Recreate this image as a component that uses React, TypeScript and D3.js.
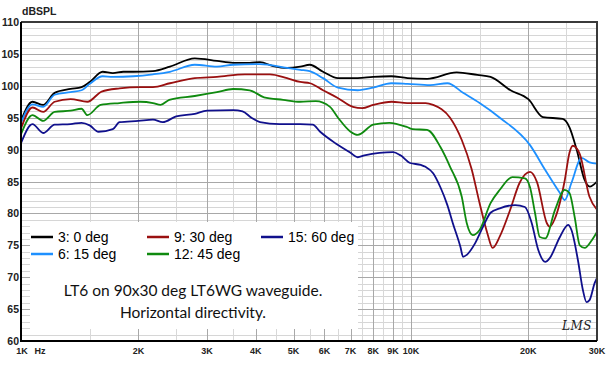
import React from 'react';
import * as d3 from 'd3';

// frequency (kHz), level (dB SPL)
const deg0: [number, number][] = [
  [1.0, 94.5], [1.07, 97.5], [1.14, 97.0], [1.22, 98.9], [1.34, 99.5], [1.43, 99.8], [1.5, 100.6],
  [1.62, 102.2], [1.72, 102.0], [1.83, 102.2], [1.94, 102.2], [2.18, 102.3], [2.41, 103.0], [2.79, 104.3],
  [3.18, 103.9], [3.5, 103.6], [3.86, 103.6], [4.1, 103.7], [4.43, 103.1], [4.81, 102.8], [5.2, 103.0],
  [5.5, 103.3], [5.95, 102.2], [6.5, 101.2], [7.3, 101.2], [8.0, 101.4], [8.9, 101.5], [9.8, 101.2],
  [11.0, 101.1], [13.1, 102.1], [14.8, 101.7], [16.0, 101.4], [18.0, 99.3], [20.0, 97.9], [21.8, 95.1],
  [24.5, 94.8], [25.5, 93.5], [26.6, 90.0], [27.9, 85.2], [28.75, 84.2], [30, 85.0],
];
const deg15: [number, number][] = [
  [1.0, 94.2], [1.07, 97.1], [1.14, 96.7], [1.22, 98.6], [1.34, 99.0], [1.43, 99.3], [1.5, 100.3],
  [1.62, 101.5], [1.72, 101.4], [1.94, 101.5], [2.18, 101.8], [2.41, 102.2], [2.79, 103.3], [3.18, 103.0],
  [3.5, 103.3], [4.1, 103.4], [4.81, 102.8], [5.2, 102.5], [5.5, 102.3], [5.95, 101.2], [6.5, 99.7],
  [7.3, 99.3], [8.0, 99.7], [8.9, 100.4], [9.8, 100.3], [11.2, 100.1], [12.4, 100.4], [13.6, 98.9],
  [15.0, 97.3], [16.9, 95.0], [20.2, 90.7], [22.1, 86.8], [24.1, 83.2], [24.8, 82.1], [25.8, 84.8],
  [27.4, 88.7], [28.7, 88.0], [30, 87.8],
];
const deg30: [number, number][] = [
  [1.0, 93.3], [1.07, 96.6], [1.14, 95.9], [1.22, 97.5], [1.34, 97.9], [1.48, 97.5], [1.61, 99.1],
  [1.79, 99.6], [2.02, 99.8], [2.18, 99.8], [2.41, 100.4], [2.79, 101.2], [3.18, 101.4], [3.75, 101.8],
  [4.35, 101.8], [4.81, 101.2], [5.2, 100.6], [5.51, 100.4], [5.95, 99.3], [6.49, 98.1], [7.1, 96.7],
  [7.5, 96.5], [8.0, 97.0], [8.93, 97.5], [9.78, 97.3], [10.9, 97.3], [11.4, 97.0], [12.6, 95.0],
  [13.5, 91.5], [14.3, 87.0], [15.0, 81.6], [15.7, 76.9], [16.2, 74.6], [16.9, 76.4], [17.95, 80.5],
  [19.0, 84.8], [20.2, 86.5], [21.05, 84.9], [22.3, 78.5], [22.7, 77.9], [23.4, 79.2], [24.8, 85.2],
  [25.5, 89.5], [26.0, 90.6], [27.1, 89.3], [28.7, 82.6], [30, 80.6],
];
const deg45: [number, number][] = [
  [1.0, 92.4], [1.07, 95.4], [1.14, 94.5], [1.22, 95.9], [1.34, 96.1], [1.43, 96.4], [1.48, 95.4],
  [1.6, 97.0], [1.79, 97.3], [2.02, 97.5], [2.18, 97.3], [2.28, 97.0], [2.4, 97.8], [2.79, 98.4],
  [3.18, 99.0], [3.5, 99.5], [3.86, 99.3], [4.2, 98.2], [4.7, 97.8], [5.2, 97.5], [5.7, 97.6],
  [6.2, 96.7], [6.5, 95.0], [7.0, 92.8], [7.3, 92.3], [8.0, 93.9], [8.8, 94.2], [9.8, 93.5],
  [10.1, 93.2], [11.0, 93.1], [11.9, 90.4], [12.6, 87.3], [13.5, 82.6], [13.9, 78.5], [14.4, 76.6],
  [15.0, 77.4], [16.0, 81.6], [16.9, 83.7], [18.2, 85.7], [19.6, 85.5], [20.2, 84.1], [20.8, 80.1],
  [21.4, 76.3], [22.1, 76.1], [23.4, 80.5], [24.8, 83.7], [25.5, 83.2], [26.3, 79.4], [27.1, 75.0],
  [27.9, 74.6], [29.1, 75.8], [30, 77.1],
];
const deg60: [number, number][] = [
  [1.0, 91.0], [1.07, 94.0], [1.14, 92.6], [1.22, 93.9], [1.34, 94.0], [1.43, 94.2], [1.5, 93.8],
  [1.58, 92.8], [1.72, 93.2], [1.79, 94.3], [2.0, 94.5], [2.18, 94.7], [2.31, 94.3], [2.5, 95.2],
  [2.79, 95.6], [3.0, 96.1], [3.5, 96.2], [3.7, 96.0], [3.9, 95.0], [4.1, 94.3], [4.6, 94.0],
  [5.2, 94.0], [5.6, 93.9], [5.85, 92.8], [6.4, 91.0], [7.0, 89.5], [7.3, 88.8], [7.6, 89.1],
  [8.3, 89.5], [9.0, 89.6], [9.4, 89.1], [9.95, 87.9], [10.6, 87.6], [10.9, 87.3], [11.4, 86.3],
  [11.9, 84.1], [12.4, 81.3], [12.8, 78.5], [13.4, 74.7], [13.6, 73.2], [13.9, 73.5], [14.6, 75.3],
  [15.3, 77.9], [16.0, 80.1], [16.9, 80.8], [18.5, 81.3], [19.6, 81.0], [20.4, 78.5], [21.2, 74.3],
  [22.1, 72.4], [22.7, 73.0], [24.1, 76.3], [25.3, 78.2], [25.8, 77.4], [26.8, 72.7], [27.6, 68.0],
  [28.2, 66.1], [28.7, 66.4], [29.6, 69.1], [30, 69.9],
];

const seriesNames = ['3: 0 deg', '6: 15 deg', '9: 30 deg', '12: 45 deg', '15: 60 deg'];
const seriesColors = ['#000000', '#1e90ff', '#9a1010', '#0f8a0f', '#10108c'];
const seriesData = [deg0, deg15, deg30, deg45, deg60];

const yTicks = [60, 65, 70, 75, 80, 85, 90, 95, 100, 105, 110];
const xTickValues = [1, 2, 3, 4, 5, 6, 7, 8, 9, 10, 20, 30];
const xTickLabels = ['1K', '2K', '3K', '4K', '5K', '6K', '7K', '8K', '9K', '10K', '20K', '30K'];
const xMinorGrid = [1.5, 2.5, 3.5, 4.5, 5.5, 6.5, 7.5, 8.5, 9.5, 15, 25];

const titleLines = ['LT6 on 90x30 deg LT6WG waveguide.', 'Horizontal directivity.'];

const L = 21, R = 597, T = 22, B = 341;

export default function App() {
  const x = d3.scaleLog().domain([1, 30]).range([L, R]);
  const y = d3.scaleLinear().domain([60, 110]).range([B, T]);
  const line = d3.line<[number, number]>()
    .x(d => x(d[0]))
    .y(d => y(d[1]))
    .curve(d3.curveMonotoneX);

  const minorY = d3.range(60, 111, 1).filter(v => v % 5 !== 0);
  const legendPos = [
    { col: 0, row: 0 }, { col: 0, row: 1 }, { col: 1, row: 0 }, { col: 1, row: 1 }, { col: 2, row: 0 },
  ];
  const colX = [31, 147, 261];
  const rowY = [237, 254];

  return (
    <svg width={610} height={365} style={{ position: 'absolute', left: 0, top: 0, background: '#fff' }}
      fontFamily="'Liberation Sans', Arial, sans-serif">
      <defs>
        <clipPath id="plot"><rect x={L} y={T} width={R - L} height={B - T} /></clipPath>
      </defs>
      <rect x={0} y={0} width={610} height={365} fill="#fff" />
      {/* grid */}
      <g shapeRendering="crispEdges">
        {minorY.map(v => (
          <line key={'my' + v} x1={L} x2={R} y1={Math.round(y(v)) + 0.5} y2={Math.round(y(v)) + 0.5} stroke="#d6d6d6" />
        ))}
        {xMinorGrid.map(v => (
          <line key={'mx' + v} x1={Math.round(x(v)) + 0.5} x2={Math.round(x(v)) + 0.5} y1={T} y2={B} stroke="#d8d8d8" />
        ))}
        {yTicks.map(v => (
          <line key={'gy' + v} x1={L} x2={R} y1={Math.round(y(v)) + 0.5} y2={Math.round(y(v)) + 0.5} stroke="#a8a8a8" />
        ))}
        {xTickValues.map(v => (
          <line key={'gx' + v} x1={Math.round(x(v)) + 0.5} x2={Math.round(x(v)) + 0.5} y1={T} y2={B} stroke="#a8a8a8" />
        ))}
      </g>
      {/* curves */}
      <g clipPath="url(#plot)" fill="none" strokeWidth={1.8} strokeLinejoin="round">
        {seriesData.map((d, i) => (
          <path key={i} d={line(d) || ''} stroke={seriesColors[i]} />
        ))}
      </g>
      {/* legend box */}
      <rect x={30} y={222} width={328} height={107} fill="#fff" />
      {seriesNames.map((n, i) => {
        const p = legendPos[i];
        return (
          <g key={n}>
            <line x1={colX[p.col]} x2={colX[p.col] + 22} y1={rowY[p.row]} y2={rowY[p.row]} stroke={seriesColors[i]} strokeWidth={2.5} />
            <text x={colX[p.col] + 27} y={rowY[p.row] + 5} fontSize={14} fill="#000">{n}</text>
          </g>
        );
      })}
      {titleLines.map((t, i) => (
        <text key={t} x={193} y={296 + i * 22} textAnchor="middle" fontSize={15.5}
          fontFamily="Lato, 'Open Sans', sans-serif" fill="#111">{t}</text>
      ))}
      <text x={577} y={330} textAnchor="middle" fontSize={12} fontStyle="italic"
        fontFamily="'DejaVu Serif', serif" fill="#222" letterSpacing={0.5}>LMS</text>
      {/* frame */}
      <path d={`M${L},${T}H${R}V${B}`} fill="none" stroke="#3a3a3a" strokeWidth={2} />
      <path d={`M${L},${T}V${B}H${R}`} fill="none" stroke="#000" strokeWidth={2} />
      {/* y ticks */}
      {yTicks.map(v => (
        <text key={'yl' + v} x={19} y={y(v) + 4} textAnchor="end" fontSize={10.5} fontWeight="bold" fill="#222">{v}</text>
      ))}
      <text x={22} y={15} fontSize={10.5} fontWeight="bold" fill="#222">dBSPL</text>
      {/* x ticks */}
      {xTickValues.map((v, i) => (
        <text key={'xl' + v} x={x(v) + (i === 0 ? 1 : 0)} y={354} textAnchor="middle" fontSize={9} fontWeight="bold" fill="#222">
          {xTickLabels[i]}
        </text>
      ))}
      <text x={40} y={354} textAnchor="middle" fontSize={9} fontWeight="bold" fill="#222">Hz</text>
    </svg>
  );
}
